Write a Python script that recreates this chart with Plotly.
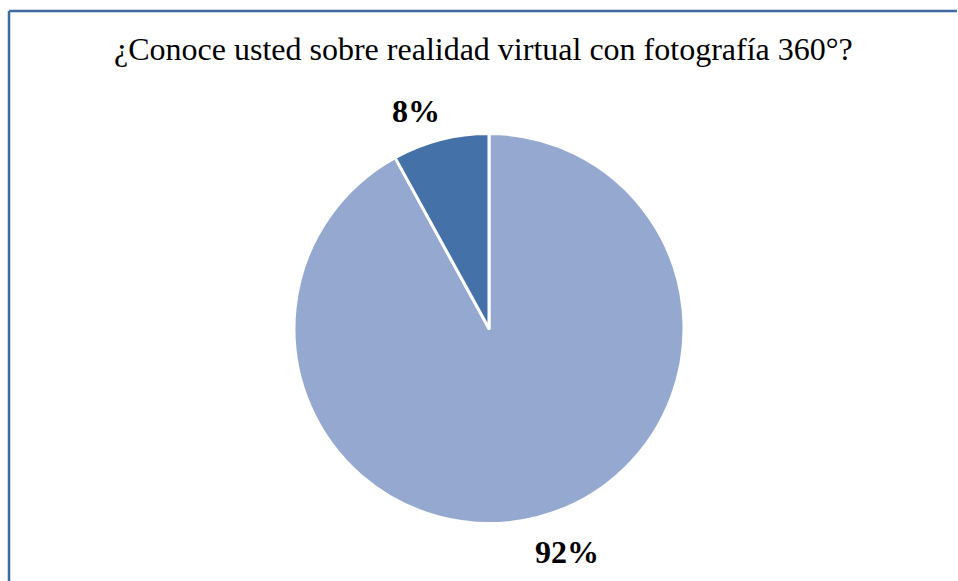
import plotly.graph_objects as go

labels = ["No", "Sí"]
values = [92, 8]
colors = ["#95A9D0", "#4472A8"]
pct_labels = ["92%", "8%"]
title = "¿Conoce usted sobre realidad virtual con fotografía 360°?"

W, H = 958, 581
fig = go.Figure(go.Pie(
    labels=labels, values=values, sort=False, direction="clockwise", rotation=0,
    marker=dict(colors=colors, line=dict(color="white", width=3)),
    textinfo="none", hoverinfo="label+percent",
    domain=dict(x=[(489-195)/W, (489+195)/W], y=[(581-524)/H, (581-133)/H]),
    showlegend=False,
))

# percentage labels
label_pos = [(567, 552), (416, 111)]
for t, (px, py) in zip(pct_labels, label_pos):
    fig.add_annotation(text=f"<b>{t}</b>", x=px/W, y=1-py/H, xref="paper", yref="paper",
                       showarrow=False, xanchor="center", yanchor="middle",
                       font=dict(family="Liberation Serif", size=32, color="black"))

fig.add_annotation(text=title, x=484/W, y=1-49/H, xref="paper", yref="paper",
                   showarrow=False, xanchor="center", yanchor="middle",
                   font=dict(family="Liberation Serif", size=32, color="black"))

# border frame
fig.add_shape(type="line", xref="paper", yref="paper", x0=9/W, x1=957/W, y0=1-11/H, y1=1-11/H,
              line=dict(color="#3F6AA3", width=2.5))
fig.add_shape(type="line", xref="paper", yref="paper", x0=9/W, x1=9/W, y0=0, y1=1-11/H,
              line=dict(color="#3F6AA3", width=2.5))

fig.update_layout(width=W, height=H, margin=dict(l=0, r=0, t=0, b=0),
                  paper_bgcolor="white", plot_bgcolor="white")
fig.write_html("out.html", config={"displayModeBar": False})
